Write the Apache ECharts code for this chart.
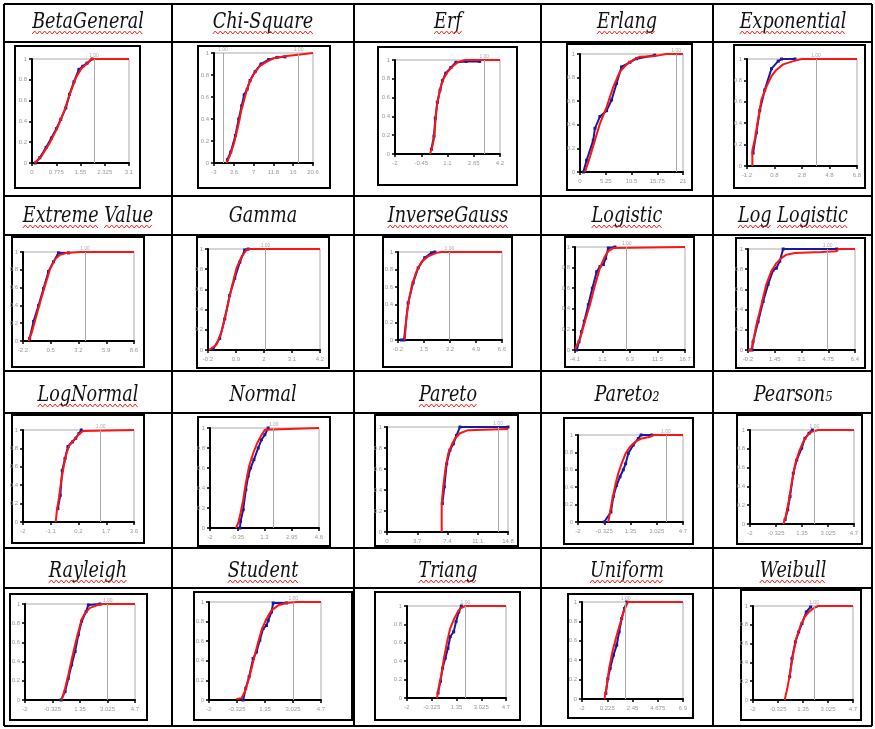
<!DOCTYPE html>
<html>
<head>
<meta charset="utf-8">
<script src="https://cdn.jsdelivr.net/npm/echarts@6/dist/echarts.min.js"></script>
<style>
  html, body { margin: 0; padding: 0; background: #fff; }
  #main { width: 875px; height: 729px; }
</style>
</head>
<body>
<div id="main"></div>
<script>
// x 轴刻度文字
const ticksBeta = ['0', '0.775', '1.55', '2.325', '3.1']
const ticksChi = ['-3', '3.6', '7', '11.8', '16', '20.6']
const ticksErf = ['-2', '-0.45', '1.1', '2.65', '4.2']
const ticksErlang = ['0', '5.25', '10.5', '15.75', '21']
const ticksExpo = ['-1.2', '0.8', '2.8', '4.8', '6.8']
const ticksExtreme = ['-2.2', '0.5', '3.2', '5.9', '8.6']
const ticksGamma = ['-0.2', '0.9', '2', '3.1', '4.2']
const ticksInvGauss = ['-0.2', '1.5', '3.2', '4.9', '6.6']
const ticksLogistic = ['-4.1', '1.1', '6.3', '11.5', '16.7']
const ticksLogLogistic = ['-0.2', '1.45', '3.1', '4.75', '6.4']
const ticksLogNormal = ['-2', '-1.1', '0.2', '1.7', '3.6']
const ticksNormal = ['-2', '-0.35', '1.3', '2.95', '4.6']
const ticksPareto = ['0', '3.7', '7.4', '11.1', '14.8']
const ticksStd = ['-2', '-0.325', '1.35', '3.025', '4.7']
const ticksUniform = ['-2', '0.225', '2.45', '4.675', '6.9']
const yTicks = ['0', '0.2', '0.4', '0.6', '0.8', '1']

// 拟合分布（红）与经验分布（蓝），[x, F(x)]
const betaFit = [[0.085,0],[0.30,0.064],[0.56,0.19],[0.83,0.35],[1.04,0.51],[1.26,0.705],[1.42,0.83],[1.58,0.91],[1.74,0.95],[1.90,1],[3.1,1]]
const betaObs = [[0.10,0],[0.25,0.05],[0.45,0.15],[0.62,0.24],[0.78,0.33],[0.92,0.42],[1.08,0.53],[1.20,0.66],[1.34,0.78],[1.50,0.90],[1.62,0.93],[1.76,0.96],[1.92,1]]
const chiFit = [[-0.06,0],[0.73,0.06],[1.77,0.18],[2.72,0.33],[3.52,0.48],[4.31,0.59],[5.10,0.70],[6.30,0.80],[7.88,0.88],[9.48,0.92],[11.46,0.955],[13.85,0.97],[17.0,0.985],[20.6,1]]
const chiObs = [[0.2,0.03],[1.0,0.10],[2.1,0.25],[2.9,0.40],[3.6,0.52],[4.2,0.62],[4.9,0.67],[5.6,0.75],[6.8,0.83],[8.2,0.90],[10.0,0.94],[12.0,0.96],[13.9,0.965]]
const erfFit = [[0.07,0],[0.20,0.08],[0.32,0.18],[0.40,0.38],[0.48,0.52],[0.60,0.63],[0.72,0.73],[0.87,0.80],[1.11,0.875],[1.39,0.93],[1.74,0.98],[2.13,1],[4.2,1]]
const erfObs = [[0.15,0.05],[0.30,0.19],[0.38,0.38],[0.50,0.55],[0.66,0.68],[0.80,0.78],[1.0,0.86],[1.3,0.92],[1.6,0.975],[2.2,0.985],[3.0,0.985]]
const erlangFit = [[1.02,0],[2.03,0.127],[3.05,0.27],[4.06,0.41],[5.42,0.55],[6.77,0.72],[8.13,0.85],[9.48,0.91],[10.84,0.95],[12.19,0.977],[14.9,0.98],[17.6,1],[21,1]]
const erlangObs = [[0.68,0],[1.35,0.10],[2.71,0.27],[3.05,0.37],[4.06,0.47],[5.42,0.52],[6.44,0.61],[7.45,0.75],[8.47,0.89],[10.16,0.93],[11.52,0.96],[15.24,0.99]]
const expoFit = [[-0.81,0],[-0.81,0.15],[-0.64,0.24],[-0.40,0.43],[-0.15,0.62],[0.21,0.74],[0.58,0.84],[0.95,0.90],[1.43,0.95],[2.17,0.98],[2.78,1],[6.8,1]]
const expoObs = [[-0.76,0.12],[-0.52,0.31],[-0.27,0.52],[0.09,0.71],[0.58,0.91],[1.07,0.98],[1.31,1],[2.29,1]]
const extremeFit = [[-1.65,0],[-1.33,0.10],[-1.01,0.235],[-0.52,0.44],[-0.04,0.63],[0.44,0.81],[0.93,0.92],[1.41,0.97],[2.06,0.99],[3.35,1],[8.6,1]]
const extremeObs = [[-1.55,0.03],[-1.17,0.22],[-0.68,0.40],[-0.20,0.59],[0.28,0.78],[0.77,0.89],[1.25,0.99],[2.22,0.99]]
const gammaFit = [[-0.16,0],[0.13,0.05],[0.33,0.18],[0.52,0.38],[0.72,0.61],[0.92,0.81],[1.11,0.92],[1.31,0.99],[1.44,1],[4.2,1]]
const gammaObs = [[0.0,0.01],[0.26,0.115],[0.46,0.31],[0.65,0.54],[0.85,0.71],[1.05,0.87],[1.24,0.99],[1.38,1]]
const invGaussFit = [[0.24,0],[0.35,0.25],[0.50,0.44],[0.72,0.63],[1.01,0.78],[1.34,0.89],[1.77,0.95],[2.32,0.99],[2.65,1],[6.6,1]]
const invGaussObs = [[0.02,0],[0.19,0],[0.46,0.42],[0.79,0.65],[1.12,0.82],[1.55,0.935],[1.99,0.99],[2.21,1]]
const logisticFit = [[-4.1,0.01],[-3.15,0.11],[-2.21,0.28],[-1.27,0.44],[-0.32,0.63],[0.63,0.80],[1.57,0.91],[2.20,0.96],[3.15,0.99],[3.46,1],[16.7,1]]
const logisticObs = [[-3.78,0],[-3.34,0.08],[-2.84,0.18],[-2.34,0.28],[-1.58,0.44],[-0.82,0.60],[0.0,0.76],[0.63,0.81],[1.26,0.83],[1.70,0.89],[2.20,0.99],[3.46,1]]
const logLogisticFit = [[-0.2,0],[0.01,0],[0.11,0.08],[0.32,0.25],[0.63,0.45],[0.93,0.65],[1.24,0.78],[1.55,0.86],[1.86,0.91],[2.17,0.944],[2.69,0.96],[4.34,0.97],[5.27,0.977],[5.37,1],[6.4,1]]
const logLogisticObs = [[-0.10,0],[0.05,0],[0.11,0.08],[0.42,0.28],[0.73,0.48],[1.04,0.65],[1.35,0.79],[1.55,0.81],[1.76,0.88],[1.97,1],[5.27,1]]
const logNormalFit = [[-0.35,0],[-0.29,0.127],[-0.18,0.27],[-0.07,0.45],[0.05,0.60],[0.19,0.745],[0.35,0.84],[0.56,0.89],[0.77,0.945],[1.03,0.99],[1.11,1],[3.6,1]]
const logNormalObs = [[-0.24,0.145],[-0.12,0.29],[-0.02,0.56],[0.12,0.69],[0.27,0.82],[0.49,0.87],[0.66,0.91],[0.82,0.96],[0.94,1]]
const normalFit = [[-0.43,0],[-0.29,0.05],[-0.15,0.15],[0.01,0.28],[0.17,0.45],[0.37,0.62],[0.62,0.75],[0.86,0.85],[1.12,0.93],[1.32,0.983],[1.42,1],[4.6,1]]
const normalObs = [[-0.19,0],[-0.15,0.067],[0.01,0.183],[0.17,0.383],[0.31,0.517],[0.46,0.60],[0.66,0.683],[0.92,0.80],[1.12,0.883],[1.32,0.933],[1.52,1]]
const paretoFit = [[6.69,0],[6.69,0.27],[6.89,0.44],[7.18,0.62],[7.50,0.75],[7.91,0.83],[8.31,0.89],[8.92,0.94],[9.93,0.97],[14.8,0.98]]
const paretoObs = [[6.77,0.27],[7.01,0.43],[7.30,0.65],[7.70,0.78],[8.11,0.84],[8.51,0.92],[8.92,1],[14.8,1]]
const pareto2Fit = [[-0.07,0],[0.03,0.096],[0.18,0.25],[0.40,0.44],[0.57,0.56],[0.78,0.67],[1.04,0.79],[1.32,0.865],[1.64,0.92],[2.07,0.96],[2.60,0.98],[2.82,1],[4.7,1]]
const pareto2Obs = [[-0.33,0],[0.10,0.115],[0.25,0.29],[0.46,0.42],[0.68,0.52],[0.89,0.60],[1.04,0.67],[1.21,0.79],[1.53,0.885],[1.85,0.96],[2.03,1],[2.71,1]]
const pearson5Fit = [[0.15,0],[0.30,0.08],[0.47,0.22],[0.68,0.43],[0.90,0.63],[1.16,0.77],[1.44,0.88],[1.72,0.95],[1.97,0.98],[2.40,1],[4.7,1]]
const pearson5Obs = [[0.26,0.046],[0.43,0.152],[0.58,0.293],[0.79,0.54],[1.01,0.68],[1.33,0.806],[1.54,0.912],[1.80,0.965],[2.02,1]]
const rayleighFit = [[0.23,0],[0.44,0.12],[0.64,0.26],[0.84,0.42],[1.05,0.575],[1.25,0.71],[1.45,0.84],[1.65,0.905],[1.96,0.96],[2.37,0.986],[2.77,1],[4.7,1]]
const rayleighObs = [[0.19,0],[0.44,0.087],[0.64,0.226],[0.84,0.366],[1.05,0.505],[1.25,0.68],[1.45,0.82],[1.72,0.92],[1.86,0.99],[2.57,1]]
const studentFit = [[-0.36,0.01],[-0.06,0.017],[0.14,0.085],[0.34,0.19],[0.54,0.32],[0.74,0.46],[0.94,0.59],[1.14,0.71],[1.44,0.83],[1.74,0.915],[2.14,0.966],[2.64,0.99],[3.24,1],[4.7,1]]
const studentObs = [[0.04,0],[0.20,0.12],[0.40,0.237],[0.64,0.424],[0.84,0.49],[1.04,0.61],[1.24,0.73],[1.44,0.76],[1.54,0.81],[1.74,0.898],[1.84,0.99],[2.64,0.99]]
const triangFit = [[0.03,0],[0.14,0.11],[0.32,0.25],[0.50,0.43],[0.71,0.61],[0.93,0.76],[1.16,0.85],[1.38,0.92],[1.61,0.975],[1.95,1],[4.7,1]]
const triangObs = [[0.10,0.054],[0.26,0.18],[0.41,0.325],[0.59,0.433],[0.77,0.54],[0.93,0.668],[1.16,0.72],[1.32,0.83],[1.50,0.935],[1.68,1]]
const uniformFit = [[-0.02,0],[0.19,0.144],[0.39,0.315],[0.68,0.486],[1.06,0.658],[1.36,0.777],[1.65,0.897],[1.85,0.95],[2.03,1],[6.9,1]]
const uniformObs = [[0.10,0.058],[0.28,0.212],[0.48,0.315],[0.77,0.452],[1.06,0.555],[1.27,0.692],[1.50,0.83],[1.74,0.932],[1.94,1]]
const weibullFit = [[0.12,0],[0.30,0.124],[0.46,0.265],[0.68,0.477],[0.90,0.654],[1.19,0.795],[1.46,0.883],[1.73,0.936],[2.02,0.972],[2.36,1],[4.7,1]]
const weibullObs = [[0.46,0.247],[0.61,0.442],[0.84,0.618],[1.06,0.724],[1.28,0.813],[1.57,0.936],[1.86,0.99]]

// 每个小图：标题、刻度、竖线位置、数据；wavy = 是否有拼写检查波浪线
const panels = [
    {title:'BetaGeneral', ticks:ticksBeta, vl:[1.98], fit:betaFit, obs:betaObs, wavy:true},
    {title:'Chi-Square', ticks:ticksChi, vl:[-0.85, 17.2], fit:chiFit, obs:chiObs, wavy:true},
    {title:'Erf', ticks:ticksErf, vl:[3.27], fit:erfFit, obs:erfObs, wavy:true},
    {title:'Erlang', ticks:ticksErlang, vl:[19.6], fit:erlangFit, obs:erlangObs, wavy:true},
    {title:'Exponential', ticks:ticksExpo, vl:[3.82], fit:expoFit, obs:expoObs, wavy:true},
    {title:'Extreme Value', ticks:ticksExtreme, vl:[3.83], fit:extremeFit, obs:extremeObs, wavy:true},
    {title:'Gamma', ticks:ticksGamma, vl:[2.06], fit:gammaFit, obs:gammaObs, wavy:false},
    {title:'InverseGauss', ticks:ticksInvGauss, vl:[3.16], fit:invGaussFit, obs:invGaussObs, wavy:true},
    {title:'Logistic', ticks:ticksLogistic, vl:[5.68], fit:logisticFit, obs:logisticObs, wavy:true},
    {title:'Log Logistic', ticks:ticksLogLogistic, vl:[4.71], fit:logLogisticFit, obs:logLogisticObs, wavy:true},
    {title:'LogNormal', ticks:ticksLogNormal, vl:[1.92], fit:logNormalFit, obs:logNormalObs, wavy:true},
    {title:'Normal', ticks:ticksNormal, vl:[1.86], fit:normalFit, obs:normalObs, wavy:false},
    {title:'Pareto', ticks:ticksPareto, vl:[13.6], fit:paretoFit, obs:paretoObs, wavy:true},
    {title:'Pareto\u2082', ticks:ticksStd, vl:[3.61], fit:pareto2Fit, obs:pareto2Obs, wavy:false},
    {title:'Pearson\u2085', ticks:ticksStd, vl:[2.15], fit:pearson5Fit, obs:pearson5Obs, wavy:false},
    {title:'Rayleigh', ticks:ticksStd, vl:[3.04], fit:rayleighFit, obs:rayleighObs, wavy:true},
    {title:'Student', ticks:ticksStd, vl:[3.04], fit:studentFit, obs:studentObs, wavy:true},
    {title:'Triang', ticks:ticksStd, vl:[1.95], fit:triangFit, obs:triangObs, wavy:true},
    {title:'Uniform', ticks:ticksUniform, vl:[1.85], fit:uniformFit, obs:uniformObs, wavy:true},
    {title:'Weibull', ticks:ticksStd, vl:[2.09], fit:weibullFit, obs:weibullObs, wavy:true},
]

// 版面：绘图区 [left, top, width, height]，外框 [x, y, w, h]
const plotBoxes = [
    [32,59,97,104],[214,53,99,110],[395,60,105,94],[580,54,103,118],[747,59,110,107],
    [23,252,111,89],[208,249,112,101],[398,252,104,88],[575,247,110,103],[748,249,107,101],
    [23,430,111,92],[210,428,109,100],[387,427,121,105],[578,435,105,87],[750,430,104,94],
    [25,604,110,96],[209,602,112,98],[407,606,99,92],[582,602,101,97],[753,606,100,94],
]
const frames = [
    [15,46,125,142],[198,46,132,142],[378,47,139,138],[567,44,125,146],[734,45,131,143],
    [12,237,132,130],[197,237,132,131],[383,237,129,130],[565,237,129,130],[736,238,129,130],
    [12,415,132,128],[198,417,132,129],[375,415,143,131],[564,418,129,126],[737,415,125,129],
    [10,594,137,126],[194,592,158,128],[375,592,145,128],[568,594,125,124],[741,590,120,130],
]
const colLines = [4, 172, 354, 541, 713, 872]
const rowLines = [4, 42, 196, 235, 371, 413, 548, 588, 726]
const titleCx = [88, 263, 448, 627, 793]
const titleBase = [29, 223, 402, 578]

const titleFont = 'italic 22px "DejaVu Serif"'
const titleScale = 0.8
const measure = document.createElement('canvas').getContext('2d')
measure.font = titleFont

const grids = [], xAxes = [], yAxes = [], series = [], graphics = []

// 表格线
colLines.forEach(x => graphics.push({type:'line', shape:{x1:x, y1:rowLines[0], x2:x, y2:rowLines[rowLines.length-1]}, style:{stroke:'#000', lineWidth:2}}))
rowLines.forEach(y => graphics.push({type:'line', shape:{x1:colLines[0], y1:y, x2:colLines[colLines.length-1], y2:y}, style:{stroke:'#000', lineWidth:2}}))

panels.forEach((p, i) => {
    const [l, t, w, h] = plotBoxes[i]
    const [fx, fy, fw, fh] = frames[i]
    const xmin = parseFloat(p.ticks[0]), xmax = parseFloat(p.ticks[p.ticks.length-1])
    const step = (xmax - xmin) / (p.ticks.length - 1)
    // 末端刻度直接取 xmax，避免浮点误差超出范围被丢弃
    const tickVals = p.ticks.map((s, k) => k === p.ticks.length - 1 ? xmax : +(xmin + k * step).toFixed(6))

    graphics.push({type:'rect', shape:{x:fx, y:fy, width:fw, height:fh}, style:{fill:'none', stroke:'#000', lineWidth:2}})

    // 标题
    const cx = titleCx[i % 5], base = titleBase[Math.floor(i / 5)]
    graphics.push({type:'text', x:cx, y:base - 7, scaleX:titleScale,
        style:{text:p.title, font:titleFont, fill:'#111', align:'center', verticalAlign:'middle'}})
    if (p.wavy) {
        const full = measure.measureText(p.title).width * titleScale
        let x0 = cx - full / 2
        p.title.split(' ').forEach(word => {
            const ww = measure.measureText(word).width * titleScale
            const pts = []
            for (let xx = 0, j = 0; xx <= ww; xx += 2.5, j++) pts.push([x0 + xx, base + (j % 2 ? 2 : 5)])
            graphics.push({type:'polyline', shape:{points:pts}, style:{stroke:'#ff2020', lineWidth:1, fill:null}})
            x0 += ww + measure.measureText(' ').width * titleScale
        })
    }

    grids.push({left:l, top:t, width:w, height:h, show:true, borderColor:'#aaa', borderWidth:1})
    xAxes.push({
        gridIndex:i, type:'value', min:xmin, max:xmax,
        axisLine:{show:true, onZero:false, lineStyle:{color:'#000', width:2}},
        axisTick:{show:true, customValues:tickVals, length:3, lineStyle:{color:'#000', width:1.5}},
        axisLabel:{customValues:tickVals, fontSize:6, color:'#999', margin:6, fontFamily:'Arial',
            hideOverlap:false, showMinLabel:true, showMaxLabel:true,
            formatter: v => p.ticks[Math.round((v - xmin) / step)]},
        splitLine:{show:false}
    })
    yAxes.push({
        gridIndex:i, type:'value', min:0, max:1, interval:0.2,
        axisLine:{show:true, onZero:false, lineStyle:{color:'#000', width:2}},
        axisTick:{show:true, length:3, lineStyle:{color:'#000', width:1.5}},
        axisLabel:{fontSize:6, color:'#999', margin:5, fontFamily:'Arial',
            formatter: v => yTicks[Math.round(v * 5)]},
        splitLine:{show:false}
    })
    series.push({
        type:'line', xAxisIndex:i, yAxisIndex:i, data:p.obs,
        symbol:'rect', symbolSize:3, showAllSymbol:true,
        itemStyle:{color:'#1a1aa0'}, lineStyle:{color:'#1a1aa0', width:2}, z:2
    })
    series.push({
        type:'line', xAxisIndex:i, yAxisIndex:i, data:p.fit, symbol:'none',
        lineStyle:{color:'#ff1414', width:2}, z:3,
        markLine:{silent:true, symbol:'none', animation:false,
            lineStyle:{color:'#aaa', width:1, type:'solid'},
            label:{show:true, position:'end', formatter:'1.00', fontSize:5, color:'#aaa', distance:1},
            data:p.vl.map(v => ({xAxis:v}))}
    })
})

const chart = echarts.init(document.getElementById('main'))
chart.setOption({
    animation:false,
    backgroundColor:'#fff',
    grid:grids,
    xAxis:xAxes,
    yAxis:yAxes,
    series,
    graphic:{elements:graphics}
})
</script>
</body>
</html>
